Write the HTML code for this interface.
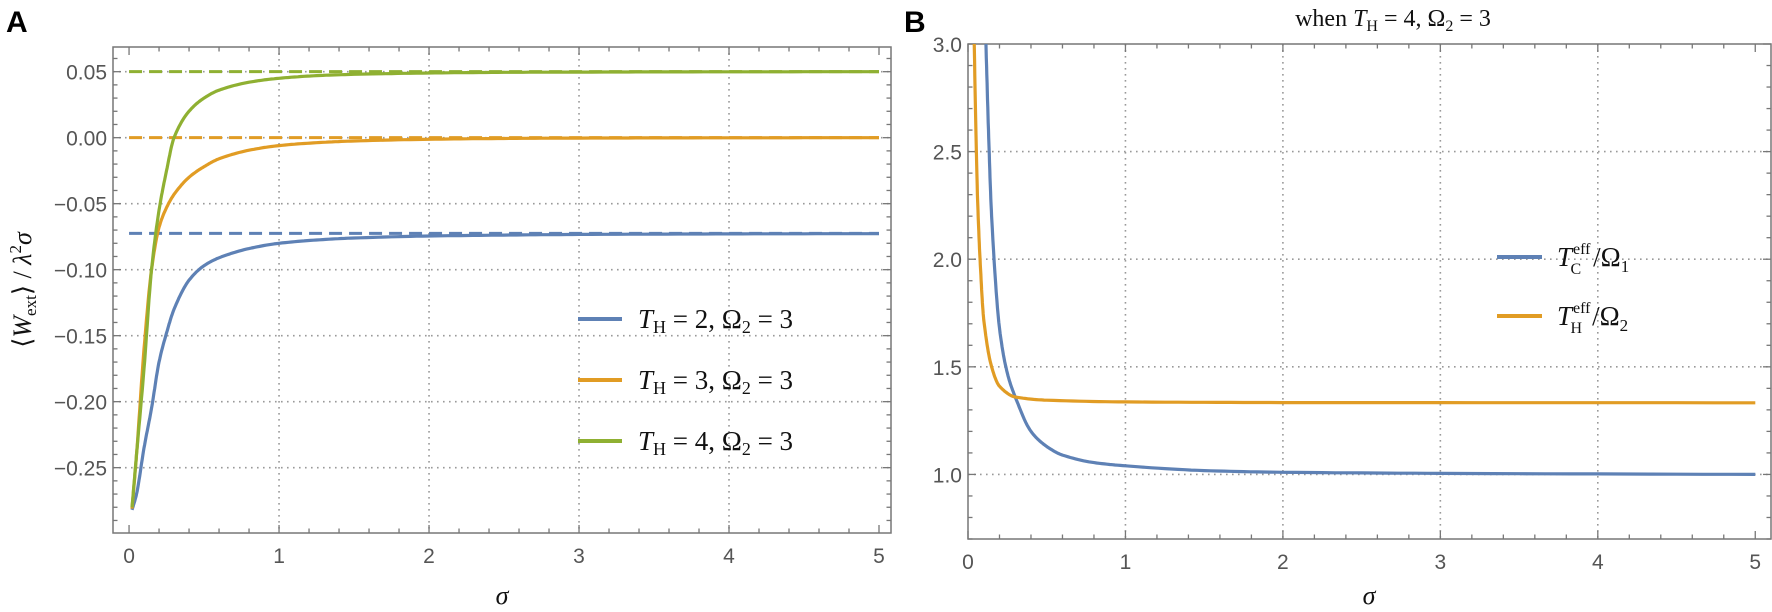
<!DOCTYPE html>
<html><head><meta charset="utf-8"><style>
html,body{margin:0;padding:0;background:#fff;width:1772px;height:612px;overflow:hidden}
svg{display:block}
.tk{font-family:"Liberation Sans",sans-serif;font-size:21px;fill:#555}
.mt{font-family:"Liberation Serif",serif;fill:#111}
</style></head><body>
<svg id="fig" width="1772" height="612" viewBox="0 0 1772 612"></svg>
<script>
// ---- Panel A data ----
const sigA = [0.02,0.05,0.1,0.15,0.2,0.25,0.3,0.4,0.5,0.6,0.8,1,1.25,1.5,2,2.5,3,4,5];
const blueA = [-0.282,-0.27,-0.235,-0.205,-0.17,-0.148,-0.13,-0.108,-0.097,-0.091,-0.084,-0.080,-0.0775,-0.076,-0.0745,-0.0738,-0.0733,-0.0729,-0.0727];
const orangeA = [-0.281,-0.24,-0.16,-0.10,-0.068,-0.053,-0.043,-0.03,-0.022,-0.016,-0.0095,-0.006,-0.0038,-0.0025,-0.0012,-0.0006,-0.0003,-0.0001,0];
const greenA = [-0.28,-0.24,-0.175,-0.10,-0.055,-0.025,0.0,0.02,0.03,0.036,0.042,0.045,0.047,0.048,0.049,0.0495,0.0497,0.0499,0.05];
const asymA = [-0.0725,0.0,0.05];
const xTicksA = [0,1,2,3,4,5];
const yTicksA = [0.05,0.00,-0.05,-0.10,-0.15,-0.20,-0.25];
const yLabelsA = ["0.05","0.00","\u22120.05","\u22120.10","\u22120.15","\u22120.20","\u22120.25"];
// ---- Panel B data ----
const sigBblue = [0.112,0.13,0.15,0.2,0.25,0.3,0.4,0.5,0.6,0.8,1,1.5,2,3,5];
const blueB = [3.05,2.6,2.2,1.68,1.47,1.36,1.2,1.13,1.09,1.055,1.04,1.018,1.01,1.005,1.0];
const sigBorange = [0.038,0.06,0.08,0.1,0.15,0.2,0.3,0.5,1,2,5];
const orangeB = [3.05,2.3,1.95,1.72,1.5,1.41,1.36,1.345,1.337,1.334,1.333];
const xTicksB = [0,1,2,3,4,5];
const yTicksB = [1.0,1.5,2.0,2.5,3.0];
const yLabelsB = ["1.0","1.5","2.0","2.5","3.0"];

const NS="http://www.w3.org/2000/svg";
const svg=document.getElementById('fig');
function el(tag,attrs,parent){const e=document.createElementNS(NS,tag);for(const k in attrs)e.setAttribute(k,attrs[k]);(parent||svg).appendChild(e);return e;}
const BLUE="#5e81b5",ORANGE="#e19c24",GREEN="#8fb032";

const A={l:113,r:891,t:47,b:533,x0:-0.107,x1:5.08,y0:-0.2995,y1:0.0687};
const B={l:968,r:1771,t:44,b:539,x0:0,x1:5.1,y0:0.7,y1:3.0};
function sx(P,v){return P.l+(v-P.x0)/(P.x1-P.x0)*(P.r-P.l);}
function sy(P,v){return P.b-(v-P.y0)/(P.y1-P.y0)*(P.b-P.t);}

function monotone(xs,ys){
  const n=xs.length,d=[],m=[];
  for(let i=0;i<n-1;i++)d.push((ys[i+1]-ys[i])/(xs[i+1]-xs[i]));
  m[0]=d[0];m[n-1]=d[n-2];
  for(let i=1;i<n-1;i++)m[i]=(d[i-1]*d[i]<=0)?0:2/(1/d[i-1]+1/d[i]);
  const pts=[];
  for(let i=0;i<n-1;i++){const h=xs[i+1]-xs[i];
    for(let k=0;k<12;k++){const t=k/12,t2=t*t,t3=t2*t;
      pts.push([xs[i]+t*h,(2*t3-3*t2+1)*ys[i]+(t3-2*t2+t)*h*m[i]+(-2*t3+3*t2)*ys[i+1]+(t3-t2)*h*m[i+1]]);}}
  pts.push([xs[n-1],ys[n-1]]);return pts;
}
function curve(P,xs,ys,color,name,clip){
  const pts=monotone(xs,ys).map(p=>sx(P,p[0]).toFixed(1)+","+sy(P,p[1]).toFixed(1)).join(" ");
  const e=el('polyline',{points:pts,fill:'none',stroke:color,'stroke-width':3.2,'stroke-linejoin':'round','clip-path':'url(#'+clip+')'});
  
  
}
const defs=el('defs',{});
el('rect',{x:A.l,y:A.t,width:A.r-A.l,height:A.b-A.t},el('clipPath',{id:'cA'},defs));
el('rect',{x:B.l,y:B.t,width:B.r-B.l,height:B.b-B.t},el('clipPath',{id:'cB'},defs));

function frame(P,xt,yt,ylab,xminor,yminor,gridY,gridX,pname){
  const g=el('g',{});
  
  
  gridY.forEach(v=>{el('line',{x1:P.l,x2:P.r,y1:sy(P,v),y2:sy(P,v),stroke:'#999','stroke-width':1.6,'stroke-dasharray':'1.6 4.4'},g);});
  gridX.forEach(v=>{el('line',{x1:sx(P,v),x2:sx(P,v),y1:P.t,y2:P.b,stroke:'#999','stroke-width':1.6,'stroke-dasharray':'1.6 4.4'},g);});
  el('rect',{x:P.l,y:P.t,width:P.r-P.l,height:P.b-P.t,fill:'none',stroke:'#777','stroke-width':1.5},g);
  for(let v=0;v<=5.001;v+=xminor){const X=sx(P,v);const maj=Math.abs(v-Math.round(v))<1e-6;const L=maj?8:4.5;
    el('line',{x1:X,x2:X,y1:P.b,y2:P.b-L,stroke:'#777','stroke-width':1.3},g);
    el('line',{x1:X,x2:X,y1:P.t,y2:P.t+L,stroke:'#777','stroke-width':1.3},g);}
  for(let v=P.y0;v<=P.y1+1e-9;v+=yminor){const vv=Math.round(v/yminor)*yminor;if(vv<P.y0-1e-9)continue;const Y=sy(P,vv);
    const maj=yt.some(t=>Math.abs(t-vv)<1e-6);const L=maj?8:4.5;
    el('line',{x1:P.l,x2:P.l+L,y1:Y,y2:Y,stroke:'#777','stroke-width':1.3},g);
    el('line',{x1:P.r,x2:P.r-L,y1:Y,y2:Y,stroke:'#777','stroke-width':1.3},g);}
  xt.forEach(v=>{const t=el('text',{x:sx(P,v),y:P.b+30,'text-anchor':'middle',class:'tk'},g);t.textContent=v;});
  yt.forEach((v,i)=>{const t=el('text',{x:P.l-6,y:sy(P,v)+8,'text-anchor':'end',class:'tk'},g);t.textContent=ylab[i];});
}
frame(A,xTicksA,yTicksA,yLabelsA,0.2,0.01,yTicksA,[1,2,3,4],'panel-a');
frame(B,xTicksB,yTicksB,yLabelsB,0.2,0.1,[1.0,1.5,2.0,2.5],[1,2,3,4],'panel-b');

const acol=[BLUE,ORANGE,GREEN];
asymA.forEach((v,i)=>{const e=el('line',{x1:sx(A,0),x2:sx(A,5),y1:sy(A,v),y2:sy(A,v),stroke:acol[i],'stroke-width':3,'stroke-dasharray':'13 7','clip-path':'url(#cA)'});
  
  });
curve(A,sigA,blueA,BLUE,'curve-th2','cA');
curve(A,sigA,orangeA,ORANGE,'curve-th3','cA');
curve(A,sigA,greenA,GREEN,'curve-th4','cA');
curve(B,sigBblue,blueB,BLUE,'curve-tc-eff','cB');
curve(B,sigBorange,orangeB,ORANGE,'curve-th-eff','cB');
</script>
<svg width="1772" height="612" style="position:absolute;left:0;top:0">
 <text x="6" y="32" font-family="Liberation Sans,sans-serif" font-weight="bold" font-size="30" fill="#000">A</text>
 <text x="904" y="32" font-family="Liberation Sans,sans-serif" font-weight="bold" font-size="30" fill="#000">B</text>
 <text x="1393" y="26" text-anchor="middle" class="mt" font-size="24">when <tspan font-style="italic">T</tspan><tspan font-size="16" dy="5">H</tspan><tspan dy="-5"> = 4, Ω</tspan><tspan font-size="16" dy="5">2</tspan><tspan dy="-5"> = 3</tspan></text>
 <text transform="translate(31,290) rotate(-90)" text-anchor="middle" class="mt" font-size="26">⟨<tspan font-style="italic">W</tspan><tspan font-size="17" dy="5">ext</tspan><tspan dy="-5">⟩ / </tspan><tspan font-style="italic">λ</tspan><tspan font-size="17" dy="-10">2</tspan><tspan dy="10" font-style="italic">σ</tspan></text>
 <text x="502" y="604" text-anchor="middle" class="mt" font-style="italic" font-size="26">σ</text>
 <text x="1369" y="604" text-anchor="middle" class="mt" font-style="italic" font-size="26">σ</text>
 <g>
  <g><line x1="578" x2="622" y1="319" y2="319" stroke="#5e81b5" stroke-width="4"/><text x="638" y="328" class="mt" font-size="27"><tspan font-style="italic">T</tspan><tspan font-size="18" dy="5">H</tspan><tspan dy="-5"> = 2, Ω</tspan><tspan font-size="18" dy="5">2</tspan><tspan dy="-5"> = 3</tspan></text></g>
  <g><line x1="578" x2="622" y1="380" y2="380" stroke="#e19c24" stroke-width="4"/><text x="638" y="389" class="mt" font-size="27"><tspan font-style="italic">T</tspan><tspan font-size="18" dy="5">H</tspan><tspan dy="-5"> = 3, Ω</tspan><tspan font-size="18" dy="5">2</tspan><tspan dy="-5"> = 3</tspan></text></g>
  <g><line x1="578" x2="622" y1="441" y2="441" stroke="#8fb032" stroke-width="4"/><text x="638" y="450" class="mt" font-size="27"><tspan font-style="italic">T</tspan><tspan font-size="18" dy="5">H</tspan><tspan dy="-5"> = 4, Ω</tspan><tspan font-size="18" dy="5">2</tspan><tspan dy="-5"> = 3</tspan></text></g>
 </g>
 <g>
  <g><line x1="1497" x2="1542" y1="257" y2="257" stroke="#5e81b5" stroke-width="4"/><text x="1557" y="266" class="mt" font-size="27"><tspan font-style="italic">T</tspan><tspan font-size="16" dy="-12" dx="1">eff</tspan><tspan font-size="16" dy="20" dx="-20">C</tspan><tspan dy="-8" dx="12">/Ω</tspan><tspan font-size="17" dy="6">1</tspan></text></g>
  <g><line x1="1497" x2="1542" y1="316" y2="316" stroke="#e19c24" stroke-width="4"/><text x="1557" y="325" class="mt" font-size="27"><tspan font-style="italic">T</tspan><tspan font-size="16" dy="-12" dx="1">eff</tspan><tspan font-size="16" dy="20" dx="-20">H</tspan><tspan dy="-8" dx="10">/Ω</tspan><tspan font-size="17" dy="6">2</tspan></text></g>
 </g>
</svg>
</body></html>
